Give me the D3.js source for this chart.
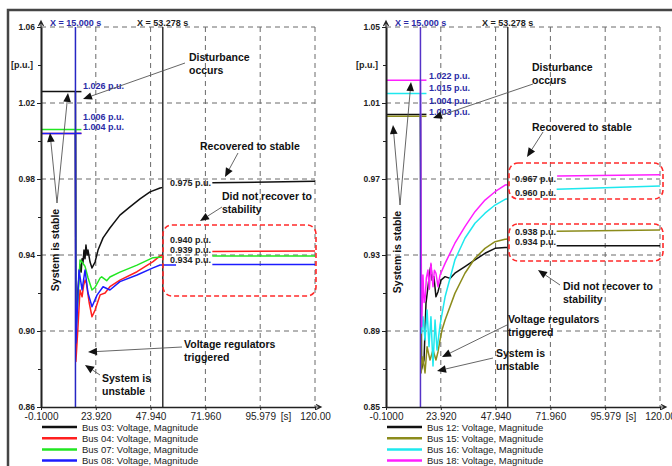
<!DOCTYPE html>
<html>
<head>
<meta charset="utf-8">
<script src="https://cdn.jsdelivr.net/npm/d3@7"></script>
<style>
body { margin: 0; background: #fff; }
svg { display: block; font-family: "Liberation Sans", Arial, sans-serif; }
</style>
</head>
<body>
<div id="wrapper"></div>
<script>
// x axis (time in s)
const timeTicks = [-0.1, 23.92, 47.94, 71.96, 95.979, 120];
const timeTickLabels = ["-0.1000", "23.920", "47.940", "71.960", "95.979", "120.00"];
const markerTimes = [15.0, 53.278];
const markerLabels = ["X = 15.000 s", "X = 53.278 s"];

// y axes (p.u.)
const leftYTicks = [0.86, 0.90, 0.94, 0.98, 1.02, 1.06];
const leftYMinor = [0.88, 0.92, 0.96, 1.00, 1.04];
const rightYTicks = [0.85, 0.89, 0.93, 0.97, 1.01, 1.05];
const rightYMinor = [0.87, 0.91, 0.95, 0.99, 1.03];

// left panel series [time, value]; null = hidden behind value label
const bus03 = [[-0.1, 1.026], [15, 1.026], [15.2, 0.900], [16.1, 0.922], [17.0, 0.935], [17.5, 0.931],
  [17.9, 0.938], [18.3, 0.936], [18.75, 0.9426], [19.2, 0.938], [19.6, 0.9453], [20.1, 0.940], [20.5, 0.9426],
  [21.4, 0.9363], [22.25, 0.9332], [23.6, 0.9363], [24.9, 0.9426], [27.1, 0.949], [30.1, 0.9542],
  [34.5, 0.961], [38.9, 0.9653], [43.3, 0.9695], [47.7, 0.9732], [52.1, 0.9753], [53.3, 0.9756],
  [54, null], [75, 0.978], [120, 0.9788]];
const bus04 = [[-0.1, 1.004], [15, 1.004], [15.2, 0.884], [16.1, 0.902], [17.0, 0.9216], [17.9, 0.918],
  [18.6, 0.924], [19.2, 0.9268], [19.8, 0.925], [21.0, 0.915], [22.25, 0.9075], [23.6, 0.911],
  [25.8, 0.919], [28.0, 0.920], [30.1, 0.9233], [34.5, 0.9268], [42.0, 0.9312], [49.0, 0.9365],
  [52.1, 0.9395], [53.3, 0.940], [54, null], [75, 0.9418], [120, 0.9421]];
const bus07 = [[-0.1, 1.006], [15, 1.006], [15.2, 0.899], [16.5, 0.925], [17.0, 0.9374], [17.9, 0.9363],
  [19.2, 0.934], [20.5, 0.928], [22.25, 0.9216], [23.6, 0.923], [25.8, 0.9279], [26.5, 0.9285],
  [28.7, 0.9265], [30.1, 0.9284], [34.5, 0.931], [42.0, 0.9347], [49.0, 0.9386], [53.3, 0.939],
  [54, null], [75, 0.9395], [120, 0.9395]];
const bus08 = [[-0.1, 1.004], [15, 1.004], [15.2, 0.8937], [16.56, 0.9321], [17.9, 0.9216], [19.2, 0.9321],
  [20.5, 0.920], [22.25, 0.9128], [24.45, 0.9189], [27.1, 0.9233], [30.1, 0.9216], [34.5, 0.926],
  [42.0, 0.9295], [49.0, 0.9332], [52.1, 0.9347], [59.1, 0.9348], [60, null], [75, 0.935], [120, 0.935]];

// right panel series
const bus12 = [[-0.1, 1.004], [15, 1.004], [15.5, 0.870], [16.56, 0.8747], [17.43, 0.9047], [18.3, 0.9133],
  [19.2, 0.9221], [19.6, 0.9247], [20.1, 0.9168], [20.9, 0.9186], [21.8, 0.908], [22.7, 0.9107],
  [24.0, 0.9168], [25.8, 0.9186], [27.95, 0.9177], [30.1, 0.9204], [34.5, 0.9239], [38.9, 0.9274],
  [43.3, 0.9309], [47.7, 0.9335], [52.1, 0.934], [53.3, 0.934], [54, null], [74.7, 0.9349], [120, 0.9349]];
const bus15 = [[-0.1, 1.003], [15, 1.003], [15.3, 0.8679], [16.1, 0.8765], [17.0, 0.8679], [17.9, 0.8817],
  [19.2, 0.8747], [20.5, 0.880], [21.8, 0.8747], [22.7, 0.8791], [23.6, 0.8853], [24.45, 0.8905],
  [25.8, 0.8958], [30.1, 0.9098], [34.5, 0.9204], [38.9, 0.9283], [43.3, 0.9335], [47.7, 0.937],
  [52.1, 0.9383], [53.3, 0.9384], [54, null], [74.7, 0.9425], [120, 0.9432]];
const bus16 = [[-0.1, 1.015], [15, 1.015], [15.46, 0.889], [16.1, 0.8975], [17.0, 0.8853], [17.9, 0.901],
  [18.75, 0.8817], [19.6, 0.8975], [20.5, 0.8716], [21.4, 0.8958], [22.25, 0.880], [23.6, 0.8932],
  [25.8, 0.908], [30.1, 0.9274], [34.5, 0.9388], [38.9, 0.9467], [43.3, 0.952], [47.7, 0.9563],
  [52.1, 0.9593], [53.3, 0.9596], [54, null], [74.7, 0.9646], [120, 0.9663]];
const bus18 = [[-0.1, 1.022], [15, 1.022], [15.5, 0.8923], [16.1, 0.9195], [16.6, 0.905], [17.0, 0.9063],
  [17.6, 0.918], [18.3, 0.9221], [18.9, 0.912], [19.6, 0.9256], [20.5, 0.9133], [21.1, 0.922],
  [21.8, 0.9204], [22.7, 0.9133], [23.6, 0.9195], [25.8, 0.9256], [30.1, 0.9362], [34.5, 0.9449],
  [38.9, 0.9528], [43.3, 0.9589], [47.7, 0.9633], [52.1, 0.9668], [53.3, 0.967], [54, null],
  [74.9, 0.9716], [120, 0.9723]];

const leftNames = ["Bus 03: Voltage, Magnitude", "Bus 04: Voltage, Magnitude", "Bus 07: Voltage, Magnitude", "Bus 08: Voltage, Magnitude"];
const rightNames = ["Bus 12: Voltage, Magnitude", "Bus 15: Voltage, Magnitude", "Bus 16: Voltage, Magnitude", "Bus 18: Voltage, Magnitude"];
const leftColors = ["#111111", "#ff1f1f", "#22e622", "#1c1cff"];
const rightColors = ["#111111", "#8c8c1c", "#1ee8ee", "#ff1fff"];

const leftStartLabels = ["1.026 p.u.", "1.006 p.u.", "1.004 p.u."];
const leftEndLabels = ["0.975 p.u.", "0.940 p.u.", "0.939 p.u.", "0.934 p.u."];
const rightStartLabels = ["1.022 p.u.", "1.015 p.u.", "1.004 p.u.", "1.003 p.u."];
const rightEndLabels = ["0.967 p.u.", "0.960 p.u.", "0.938 p.u.", "0.934 p.u."];

const width = 672, height = 466;
const plotW = 274, plotH = 380, plotTop = 27;

const svg = d3.select("#wrapper").append("svg")
  .attr("width", width)
  .attr("height", height);

// outer frame
svg.append("rect")
  .attr("x", 8).attr("y", 10)
  .attr("width", 700).attr("height", 480)
  .attr("fill", "none")
  .attr("stroke", "#454545")
  .attr("stroke-width", 2.5);

function drawArrow(g, a) {
  const [x1, y1, x2, y2] = a;
  const ang = Math.atan2(y2 - y1, x2 - x1);
  const len = 9, half = 3.8;
  const bx = x2 - len * Math.cos(ang), by = y2 - len * Math.sin(ang);
  g.append("line")
    .attr("x1", x1).attr("y1", y1).attr("x2", bx).attr("y2", by)
    .attr("stroke", "#555").attr("stroke-width", 0.9);
  g.append("path")
    .attr("d", `M${x2},${y2}L${bx - half * Math.sin(ang)},${by + half * Math.cos(ang)}L${bx + half * Math.sin(ang)},${by - half * Math.cos(ang)}Z`)
    .attr("fill", "#111");
}

function drawPanel(cfg) {
  const g = svg.append("g").attr("transform", `translate(${cfg.left},${plotTop})`);
  const x = d3.scaleLinear().domain([-0.1, 120]).range([0, plotW]);
  const y = d3.scaleLinear().domain([cfg.yTicks[0], cfg.yTicks[cfg.yTicks.length - 1]]).range([plotH, 0]);

  // dashed grid
  g.selectAll(".hgrid").data(cfg.yTicks.slice(1)).join("line")
    .attr("x1", 0).attr("x2", plotW)
    .attr("y1", d => y(d)).attr("y2", d => y(d))
    .attr("stroke", "#6a6a6a").attr("stroke-width", 1).attr("stroke-dasharray", "5,4");
  g.selectAll(".vgrid").data(timeTicks.slice(1)).join("line")
    .attr("x1", d => x(d)).attr("x2", d => x(d))
    .attr("y1", 0).attr("y2", plotH)
    .attr("stroke", "#6a6a6a").attr("stroke-width", 1).attr("stroke-dasharray", "5,4");

  // series
  const line = d3.line()
    .defined(d => d[1] !== null)
    .x(d => x(d[0]))
    .y(d => y(d[1]));
  cfg.series.forEach((s, i) => {
    g.append("path")
      .attr("fill", "none")
      .attr("stroke", cfg.colors[i])
      .attr("stroke-width", 1.5)
      .attr("stroke-linejoin", "round")
      .attr("d", line(s));
    // short leader at the pre-disturbance value
    g.append("line")
      .attr("x1", x(15)).attr("x2", x(15) + 6)
      .attr("y1", y(s[0][1])).attr("y2", y(s[0][1]))
      .attr("stroke", cfg.colors[i]).attr("stroke-width", 1.5);
  });

  // cursor lines
  g.append("line")
    .attr("x1", x(markerTimes[0])).attr("x2", x(markerTimes[0]))
    .attr("y1", 0).attr("y2", plotH)
    .attr("stroke", cfg.markerColor).attr("stroke-width", 1.5);
  g.append("line")
    .attr("x1", x(markerTimes[1])).attr("x2", x(markerTimes[1]))
    .attr("y1", 0).attr("y2", plotH)
    .attr("stroke", "#333").attr("stroke-width", 1.5);
  g.append("text").attr("x", 9).attr("y", -1)
    .attr("font-size", 9).attr("font-weight", "bold").attr("fill", "#2b2ba6")
    .text(markerLabels[0]);
  g.append("text").attr("x", 96).attr("y", -1)
    .attr("font-size", 9).attr("font-weight", "bold").attr("fill", "#222")
    .text(markerLabels[1]);

  // axes
  const yAxis = g.append("g")
    .call(d3.axisLeft(y).tickValues(cfg.yTicks).tickFormat(d3.format(".2f")).tickSize(4).tickSizeOuter(0).tickPadding(2));
  g.append("g")
    .call(d3.axisLeft(y).tickValues(cfg.yMinor).tickFormat("").tickSize(3).tickSizeOuter(0));
  const xAxis = g.append("g")
    .attr("transform", `translate(0,${plotH})`)
    .call(d3.axisBottom(x).tickValues(timeTicks).tickFormat((d, i) => timeTickLabels[i]).tickSize(3).tickSizeOuter(0).tickPadding(3));
  g.selectAll(".domain").attr("stroke", "#222").attr("stroke-width", 1.6);
  g.selectAll(".tick line").attr("stroke", "#222");
  yAxis.selectAll("text").attr("font-size", 8.5).attr("font-weight", "bold").attr("fill", "#222").attr("font-family", null);
  xAxis.selectAll("text").attr("font-size", 10).attr("fill", "#222").attr("font-family", null);
  // axis arrows
  g.append("path").attr("d", `M0,0V-5M-2.5,-1L0,-6L2.5,-1`).attr("stroke", "#222").attr("fill", "none").attr("stroke-width", 1.2);
  g.append("path").attr("d", `M${plotW},${plotH}H${plotW + 6}M${plotW + 1},${plotH - 2.5}L${plotW + 6},${plotH}L${plotW + 1},${plotH + 2.5}`)
    .attr("stroke", "#222").attr("fill", "none").attr("stroke-width", 1.2);
  g.append("text").attr("x", -8).attr("y", y(cfg.yMinor[4]) + 3)
    .attr("text-anchor", "end").attr("font-size", 9).attr("font-weight", "bold").attr("fill", "#222")
    .text("[p.u.]");
  g.append("text").attr("x", x(107.3)).attr("y", plotH + 13)
    .attr("text-anchor", "middle").attr("font-size", 10).attr("fill", "#222")
    .text("[s]");

  // dashed red highlight boxes
  cfg.boxes.forEach(b => {
    g.append("rect")
      .attr("x", b[0]).attr("y", b[1]).attr("width", b[2]).attr("height", b[3])
      .attr("rx", 9).attr("ry", 9)
      .attr("fill", "none").attr("stroke", "#ff2a2a").attr("stroke-width", 1.6).attr("stroke-dasharray", "5,3");
  });

  // value labels
  cfg.startLabels.forEach((t, i) => {
    g.append("text").attr("x", cfg.startX).attr("y", cfg.startY[i])
      .attr("font-size", 9).attr("font-weight", "bold").attr("fill", "#2b2ba6").text(t);
  });
  cfg.endLabels.forEach((t, i) => {
    g.append("text").attr("x", 129).attr("y", cfg.endY[i])
      .attr("font-size", 9).attr("font-weight", "bold").attr("fill", "#222").text(t);
  });

  // annotations
  cfg.notes.forEach(n => {
    const t = g.append("text").attr("x", n.x).attr("y", n.y)
      .attr("font-size", 10.5).attr("font-weight", "bold").attr("fill", "#111");
    n.lines.forEach((l, i) => t.append("tspan").attr("x", n.x).attr("dy", i === 0 ? 0 : 12.8).text(l));
  });
  g.append("text")
    .attr("transform", `translate(${cfg.stable[0]},${cfg.stable[1]}) rotate(-90)`)
    .attr("text-anchor", "middle").attr("font-size", 10.5).attr("font-weight", "bold").attr("fill", "#111")
    .text("System is stable");
  cfg.arrows.forEach(a => drawArrow(g, a));

  // legend
  const leg = svg.append("g").attr("transform", `translate(${cfg.left},0)`);
  cfg.names.forEach((nm, i) => {
    const ly = 427 + i * 11.2;
    leg.append("line").attr("x1", 1).attr("x2", 36).attr("y1", ly).attr("y2", ly)
      .attr("stroke", cfg.colors[i]).attr("stroke-width", 2.5);
    leg.append("text").attr("x", 41).attr("y", ly + 3.5)
      .attr("font-size", 9.5).attr("fill", "#222").text(nm);
  });
}

drawPanel({
  left: 41,
  yTicks: leftYTicks, yMinor: leftYMinor,
  series: [bus03, bus04, bus07, bus08],
  colors: leftColors, names: leftNames,
  markerColor: "#2626c4",
  startLabels: leftStartLabels, startX: 42, startY: [62, 93, 103],
  endLabels: leftEndLabels, endY: [159, 216, 226, 236],
  boxes: [[122, 198, 153, 71]],
  stable: [18, 223],
  notes: [
    { lines: ["Disturbance", "occurs"], x: 148, y: 34 },
    { lines: ["Recovered to stable"], x: 159, y: 123 },
    { lines: ["Did not recover to", "stability"], x: 181, y: 173 },
    { lines: ["Voltage regulators", "triggered"], x: 143, y: 321 },
    { lines: ["System is", "unstable"], x: 61, y: 355 }
  ],
  arrows: [[144, 36, 42, 72], [197, 126, 184, 150], [181, 180, 159, 194], [141, 320, 47, 325],
    [59, 348, 44, 338], [16, 176, 9, 106], [16, 176, 27, 66]]
});

drawPanel({
  left: 386,
  yTicks: rightYTicks, yMinor: rightYMinor,
  series: [bus12, bus15, bus16, bus18],
  colors: rightColors, names: rightNames,
  markerColor: "#5533c8",
  startLabels: rightStartLabels, startX: 43, startY: [52, 64, 77, 88],
  endLabels: rightEndLabels, endY: [155, 169, 208, 218],
  boxes: [[123, 136, 154, 36], [123, 197, 154, 37]],
  stable: [14.5, 225],
  notes: [
    { lines: ["Disturbance", "occurs"], x: 146, y: 44 },
    { lines: ["Recovered to stable"], x: 146, y: 104 },
    { lines: ["Did not recover to", "stability"], x: 177, y: 263 },
    { lines: ["Voltage regulators", "triggered"], x: 122, y: 296 },
    { lines: ["System is", "unstable"], x: 110, y: 330 }
  ],
  arrows: [[147, 57, 47, 91], [157, 105, 141, 130], [174, 258, 152, 243], [121, 298, 56, 330],
    [107, 331, 51, 344], [14, 178, 7, 98], [14, 178, 25, 55]]
});
</script>
</body>
</html>
